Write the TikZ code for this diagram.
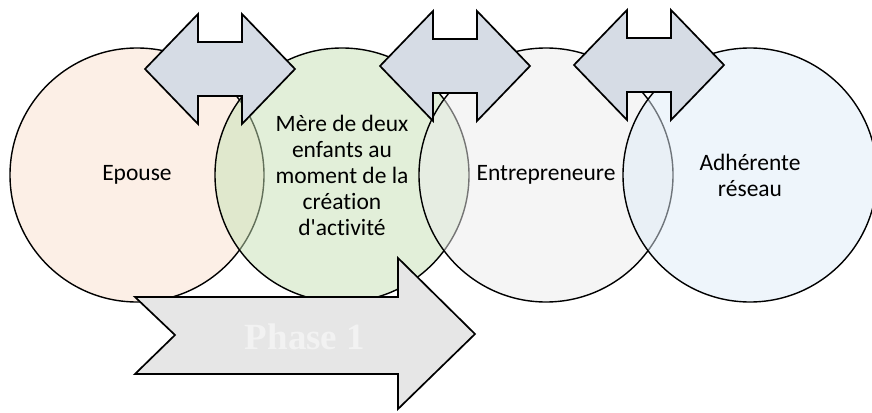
\documentclass[tikz,border=0pt]{standalone}
\usepackage{fontspec}
\setmainfont{Carlito}[Ligatures=NoCommon]
\newfontfamily\phasefont{Liberation Serif}

\definecolor{wifeclr}{HTML}{F9E0CD}
\definecolor{motherclr}{HTML}{C5E0B4}
\definecolor{bossclr}{HTML}{EBEBEB}
\definecolor{netclr}{HTML}{DEEBF7}
\definecolor{linkclr}{HTML}{D6DCE5}
\definecolor{phaseclr}{HTML}{E6E6E6}

\tikzset{
  role/.style={circle,draw=black,line width=1.4pt,minimum size=254pt,inner sep=0pt,
    align=center,fill opacity=0.5,text opacity=1,font=\fontsize{23.5}{26}\selectfont},
  linkbox/.style={draw=black,line width=1.7pt,fill=linkclr,line join=miter},
  phasebox/.style={draw=black,line width=1.7pt,fill=phaseclr,line join=miter},
  phaselabel/.style={text=white!95!black,font=\phasefont\bfseries\fontsize{37}{40}\selectfont},
  pics/twoway/.style={code={
    \draw[linkbox] (-75,0) -- (-22,-55) -- (-22,-27) -- (22,-27) -- (22,-55) -- (75,0)
      -- (22,55) -- (22,27) -- (-22,27) -- (-22,55) -- cycle;
  }}
}

\begin{document}
\begin{tikzpicture}[x=1pt,y=-1pt]
  \useasboundingbox (0,0) rectangle (872,412);

  % the four roles
  \node[role,fill=wifeclr] (wife) at (137,175) {Epouse};
  \node[role,fill=motherclr] (mother) at (342,175) {M\`ere de deux\\enfants au\\moment de la\\cr\'eation\\d\textquotesingle activit\'e};
  \node[role,fill=bossclr] (boss) at (546,175) {Entrepreneure};
  \node[role,fill=netclr] (net) at (750,175) {Adh\'erente\\r\'eseau};

  % links between the roles
  \pic at (220,69) {twoway};
  \pic at (455,66) {twoway};
  \pic at (649,65) {twoway};

  % phase arrow
  \draw[phasebox] (135,297) -- (398,297) -- (398,258) -- (475,334) -- (398,409)
    -- (398,374) -- (135,374) -- (175,335) -- cycle;
  \node[phaselabel] (phase) at (305,337) {Phase 1};
\end{tikzpicture}
\end{document}
